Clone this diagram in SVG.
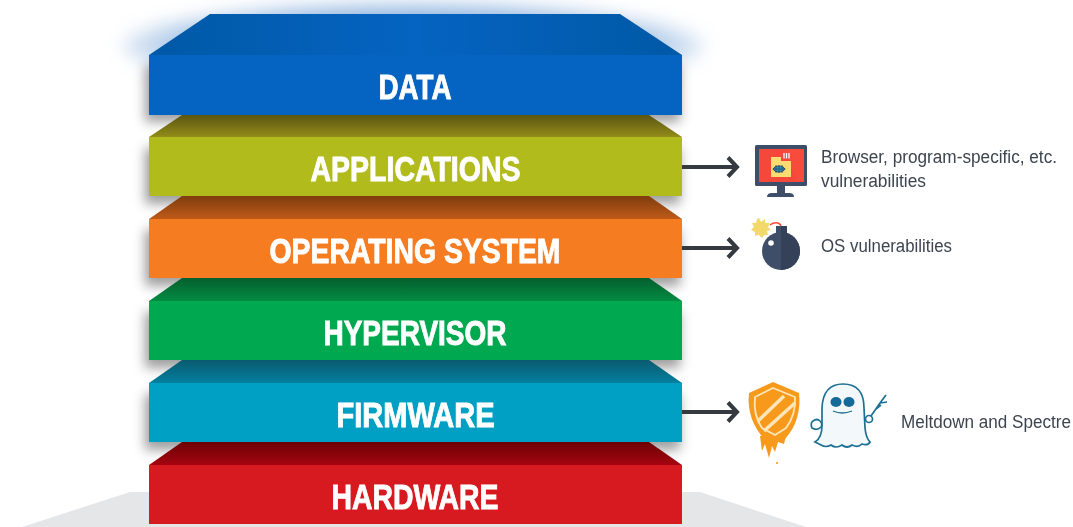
<svg xmlns="http://www.w3.org/2000/svg" width="1073" height="527" viewBox="0 0 1073 527">
<style>
.lbl{font-family:"Liberation Sans",Arial,sans-serif;font-weight:700;font-size:34.500px;fill:#fff;stroke:#fff;stroke-width:0.9}
.note{font-family:"Liberation Sans",Arial,sans-serif;font-size:18px;fill:#3d4550}
.arrow{fill:none;stroke:#343a40;stroke-width:4}
.shadow{fill:#000;opacity:.38}
.shield{fill:none;stroke:#fce6b8}
.ghost{stroke:#1f6f93;stroke-width:1.7}
</style>
<defs>
<filter id="soft" x="-20%" y="-100%" width="140%" height="300%"><feGaussianBlur stdDeviation="6"/></filter>
<filter id="glow" x="-20%" y="-100%" width="140%" height="300%"><feGaussianBlur stdDeviation="9"/></filter>
<filter id="b1" x="-10%" y="-10%" width="120%" height="120%"><feGaussianBlur stdDeviation="0.4"/></filter>
<linearGradient id="gApp" x1="0" y1="0" x2="0" y2="1"><stop offset="0" stop-color="#5c5510"/><stop offset="1" stop-color="#928c1a"/></linearGradient>
<linearGradient id="gOs" x1="0" y1="0" x2="0" y2="1"><stop offset="0" stop-color="#7f3d0e"/><stop offset="1" stop-color="#bf5a18"/></linearGradient>
<linearGradient id="gHyp" x1="0" y1="0" x2="0" y2="1"><stop offset="0" stop-color="#05602d"/><stop offset="1" stop-color="#038a42"/></linearGradient>
<linearGradient id="gFw" x1="0" y1="0" x2="0" y2="1"><stop offset="0" stop-color="#0a5a70"/><stop offset="1" stop-color="#047f9e"/></linearGradient>
<linearGradient id="gHw" x1="0" y1="0" x2="0" y2="1"><stop offset="0" stop-color="#6c0205"/><stop offset="1" stop-color="#a5040f"/></linearGradient>
<linearGradient id="gTop" x1="0" y1="0" x2="1" y2="0"><stop offset="0" stop-color="#0059a6"/><stop offset="0.5" stop-color="#0563c1"/><stop offset="1" stop-color="#0059a6"/></linearGradient>
<radialGradient id="gGlow"><stop offset="0" stop-color="#5f94d2" stop-opacity=".9"/><stop offset=".75" stop-color="#6f9fd6" stop-opacity=".75"/><stop offset="1" stop-color="#9dbde2" stop-opacity=".35"/></radialGradient>
</defs>

<polygon id="floor" points="22,527 130,492 700,492 806,527" fill="#e5e6e8"/>
<ellipse id="glow-top" cx="413" cy="46" rx="290" ry="44" fill="url(#gGlow)" filter="url(#glow)"/>

<g id="shadows" filter="url(#soft)">
<rect class="shadow" x="145" y="66" width="535" height="56"/>
<rect class="shadow" x="145" y="148" width="535" height="56"/>
<rect class="shadow" x="145" y="230" width="535" height="56"/>
<rect class="shadow" x="145" y="312" width="535" height="56"/>
<rect class="shadow" x="145" y="394" width="535" height="56"/>
</g>

<g id="hardware">
<polygon points="182,442 649,442 682,465 149,465" fill="url(#gHw)"/>
<rect x="149" y="465" width="533" height="59" fill="#d71a20"/>
<text class="lbl" x="331.500" y="509" textLength="167" lengthAdjust="spacingAndGlyphs">HARDWARE</text>
</g>
<g id="firmware">
<polygon points="182,360 649,360 682,383 149,383" fill="url(#gFw)"/>
<rect x="149" y="383" width="533" height="59" fill="#00a0c4"/>
<text class="lbl" x="336.500" y="427" textLength="158" lengthAdjust="spacingAndGlyphs">FIRMWARE</text>
</g>
<g id="hypervisor">
<polygon points="182,278 649,278 682,301 149,301" fill="url(#gHyp)"/>
<rect x="149" y="301" width="533" height="59" fill="#00a94f"/>
<text class="lbl" x="323.500" y="345" textLength="183" lengthAdjust="spacingAndGlyphs">HYPERVISOR</text>
</g>
<g id="operating-system">
<polygon points="182,196 649,196 682,219 149,219" fill="url(#gOs)"/>
<rect x="149" y="219" width="533" height="59" fill="#f67c21"/>
<text class="lbl" x="269.500" y="263" textLength="291" lengthAdjust="spacingAndGlyphs">OPERATING SYSTEM</text>
</g>
<g id="applications">
<polygon points="182,115 649,115 682,137 149,137" fill="url(#gApp)"/>
<rect x="149" y="137" width="533" height="59" fill="#b2bb1c"/>
<text class="lbl" x="310.500" y="181" textLength="210" lengthAdjust="spacingAndGlyphs">APPLICATIONS</text>
</g>
<g id="data">
<polygon points="210,14 620,14 682,55 149,55" fill="url(#gTop)"/>
<rect x="149" y="55" width="533" height="60" fill="#0563c1"/>
<text class="lbl" x="378.500" y="99" textLength="73" lengthAdjust="spacingAndGlyphs">DATA</text>
</g>

<g id="connectors">
<path class="arrow" d="M682 167H736M728 157.500L737 167L728 176.500"/>
<path class="arrow" d="M682 248H736M728 238.500L737 248L728 257.500"/>
<path class="arrow" d="M682 412H736M728 402.500L737 412L728 421.500"/>
</g>

<g id="monitor-icon">
<rect x="755" y="145" width="52" height="41" rx="1.500" fill="#3f4e68"/>
<rect x="759" y="149" width="45" height="33" fill="#f6483a"/>
<polygon points="785,149 804,149 804,182 797,182" fill="#fb4f3c" opacity=".6"/>
<rect x="777" y="186" width="8" height="7" fill="#3f4e68"/>
<path d="M767 197q0-4 5-4h17q5 0 5 4z" fill="#3f4e68"/>
<path d="M771 157H781V161H791V177H771z" fill="#fbdc72"/>
<path d="M784 153v5.500M786.500 153v5.500M789 153v5.500" stroke="#fff" stroke-width="1.300"/>
<ellipse cx="779" cy="169" rx="5.500" ry="3" fill="#2a9cc0" stroke="#2b4a66" stroke-width="1"/>
<path d="M772.500 169h13M776 165v8M779 165v8M782 165v8" stroke="#2b4a66" stroke-width="0.800"/>
</g>
<g id="bomb-icon">
<polygon points="759,218 761,222 765,219 765,223 770,223 768,227 771,230 767,231 768,235 764,235 762,238 759,235 755,236 755,232 751,230 754,227 752,223 756,223 757,219" fill="#f3d86a"/>
<path d="M770 225q4-3 8-2q3 1 3 4" fill="none" stroke="#f6483a" stroke-width="1.400"/>
<circle cx="781" cy="251" r="19" fill="#3f4e68"/>
<path d="M781 232a19 19 0 0 1 0 38z" fill="#354159"/>
<rect x="776" y="226" width="5" height="8" fill="#3f4e68"/>
<rect x="781" y="226" width="6" height="8" fill="#354159"/>
<circle cx="771" cy="243" r="2.800" fill="#fff"/>
</g>
<g id="meltdown-icon" filter="url(#b1)">
<path d="M773 382L799 393Q802 420 785 439L778 441L766 441Q746 420 749 393z" fill="#f79a1e"/>
<path d="M760 436L762 451L765 444L769 458L772 446L775 452L778 442L784 444L786 436z" fill="#f79a1e"/>
<circle cx="777" cy="463" r="1" fill="#f79a1e"/>
<path class="shield" stroke-width="1.800" d="M773 388L795 397Q796 415 786 428L775 435L762 428Q753 415 755 397z"/>
<path class="shield" stroke-width="3.500" d="M758 421L784 396M764 431L795 403"/>
</g>
<g id="spectre-icon" filter="url(#b1)">
<path class="ghost" d="M815 442Q822 438 822 425L822 408Q823 384 843 384Q864 384 864 408L865 428Q866 438 870 442Q868 446 862 444Q858 448 852 445Q847 449 842 445Q836 449 831 445Q826 448 821 445z" fill="#f3f8fb"/>
<ellipse cx="836" cy="402" rx="5.500" ry="5" fill="#156b9a"/>
<ellipse cx="849" cy="402" rx="5.500" ry="5" fill="#156b9a"/>
<path d="M833 411q9 4 19 0" fill="none" stroke="#1f6f93" stroke-width="1.300"/>
<path class="ghost" d="M812 428q-2-5 1-7q4-3 7 0q3 3 1 6q-4 4-9 1z" fill="#fff"/>
<circle class="ghost" cx="869" cy="419" r="3.500" fill="#fff"/>
<path class="ghost" d="M871 416L880 403L886 395M880 403L887 402M876 409L881 405" fill="none"/>
</g>

<g id="notes">
<text class="note" x="821" y="163" textLength="236" lengthAdjust="spacingAndGlyphs">Browser, program-specific, etc.</text>
<text class="note" x="821" y="187" textLength="105" lengthAdjust="spacingAndGlyphs">vulnerabilities</text>
<text class="note" x="821" y="252" textLength="131" lengthAdjust="spacingAndGlyphs">OS vulnerabilities</text>
<text class="note" x="901" y="428" textLength="170" lengthAdjust="spacingAndGlyphs" style="font-size:17.500px">Meltdown and Spectre</text>
</g>
</svg>
